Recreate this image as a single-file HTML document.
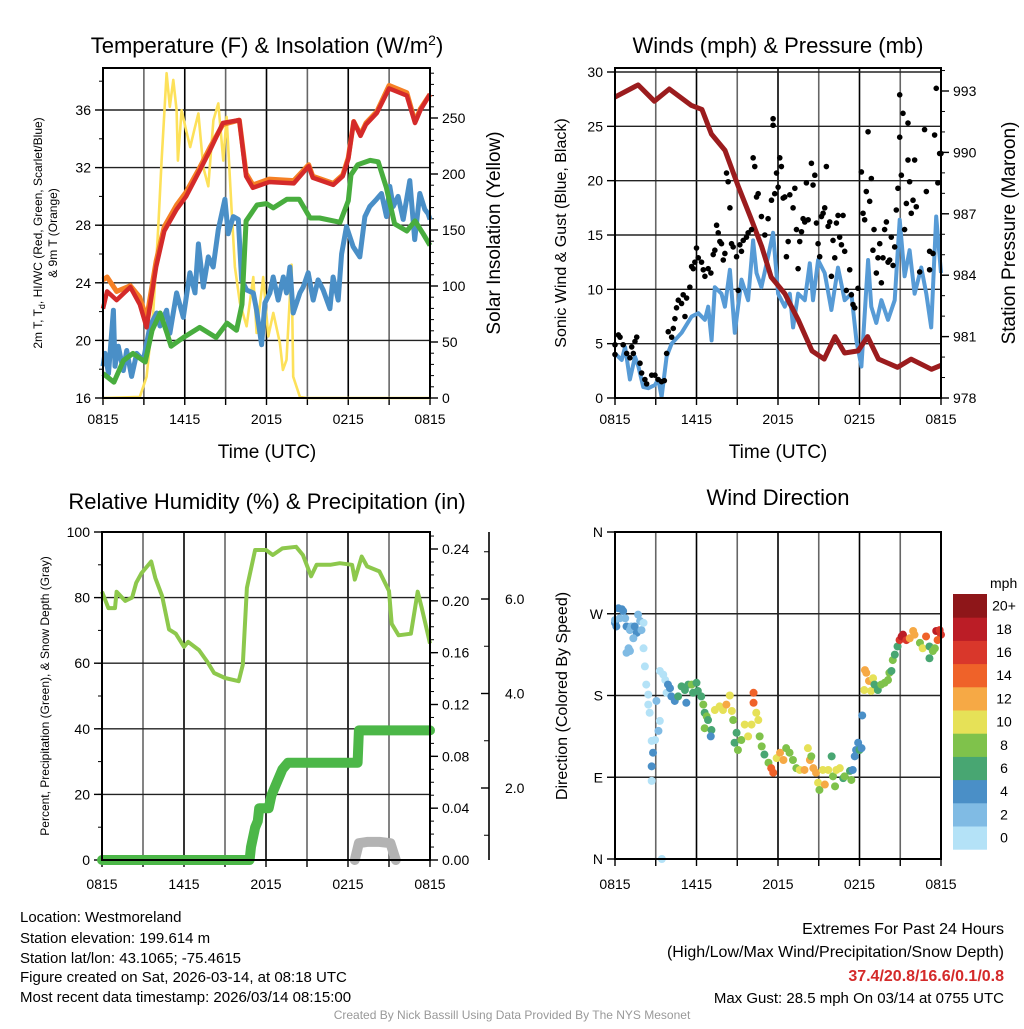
<!DOCTYPE html>
<html><head><meta charset="utf-8">
<style>
html,body{margin:0;padding:0;background:#fff;}
svg text{font-family:"Liberation Sans",Arial,sans-serif;fill:#000;}
</style></head>
<body>
<svg id="root" xmlns="http://www.w3.org/2000/svg" width="1024" height="1024" viewBox="0 0 1024 1024">
<text x="267" y="53" font-size="22" text-anchor="middle">Temperature (F) &amp; Insolation (W/m<tspan dy="-8" font-size="14">2</tspan><tspan dy="8">)</tspan></text>
<text x="778" y="53" font-size="22" text-anchor="middle">Winds (mph) &amp; Pressure (mb)</text>
<text x="267" y="509" font-size="22" text-anchor="middle">Relative Humidity (%) &amp; Precipitation (in)</text>
<text x="778" y="505" font-size="22" text-anchor="middle">Wind Direction</text>
<text x="267" y="458" font-size="19" text-anchor="middle">Time (UTC)</text>
<text x="778" y="458" font-size="19" text-anchor="middle">Time (UTC)</text>
<text transform="translate(42,233) rotate(-90)" font-size="12" text-anchor="middle">2m T, T<tspan dy="3" font-size="9">d</tspan><tspan dy="-3">, HI/WC (Red, Green, Scarlet/Blue)</tspan></text>
<text transform="translate(57,233) rotate(-90)" font-size="12" text-anchor="middle">&amp; 9m T (Orange)</text>
<text transform="translate(500,233) rotate(-90)" font-size="19" text-anchor="middle">Solar Insolation (Yellow)</text>
<text transform="translate(566,233) rotate(-90)" font-size="16" text-anchor="middle">Sonic Wind &amp; Gust (Blue, Black)</text>
<text transform="translate(1015,233) rotate(-90)" font-size="19" text-anchor="middle">Station Pressure (Maroon)</text>
<text transform="translate(49,696) rotate(-90)" font-size="12" text-anchor="middle">Percent, Precipitation (Green), &amp; Snow Depth (Gray)</text>
<text transform="translate(567,696) rotate(-90)" font-size="16" text-anchor="middle">Direction (Colored By Speed)</text>
<g font-size="15">
<text x="20" y="922">Location: Westmoreland</text>
<text x="20" y="943">Station elevation: 199.614 m</text>
<text x="20" y="963">Station lat/lon: 43.1065; -75.4615</text>
<text x="20" y="982">Figure created on Sat, 2026-03-14, at 08:18 UTC</text>
<text x="20" y="1002">Most recent data timestamp: 2026/03/14 08:15:00</text>
</g>
<g font-size="16" text-anchor="end">
<text x="1004" y="934">Extremes For Past 24 Hours</text>
<text x="1004" y="957">(High/Low/Max Wind/Precipitation/Snow Depth)</text>
<text x="1004" y="981" font-weight="bold" style="fill:#d42a2a">37.4/20.8/16.6/0.1/0.8</text>
<text x="1004" y="1003" font-size="15">Max Gust: 28.5 mph On 03/14 at 0755 UTC</text>
</g>
<text x="512" y="1019" font-size="12" text-anchor="middle" style="fill:#999">Created By Nick Bassill Using Data Provided By The NYS Mesonet</text>
</svg>
<script>
// ---------- data ----------
const timeTicks = ["0815","1415","2015","0215","0815"];
const tempTicks = [16,20,24,28,32,36];
const solarTicks = [0,50,100,150,200,250];
const windTicks = [0,5,10,15,20,25,30];
const presTicks = [978,981,984,987,990,993];
const rhTicks = [0,20,40,60,80,100];
const precipTicks = ["0.00","0.04","0.08","0.12","0.16","0.20","0.24"];
const snowTicks = ["2.0","4.0","6.0"];
const dirLabels = ["N","E","S","W","N"];
const speedBins = ["0","2","4","6","8","10","12","14","16","18","20+"];

const tempH = [0,0.3,1,2,2.7,3.2,3.9,4.5,5.4,6.1,7.1,7.85,8.8,10,10.5,11,12.2,14,15.1,15.4,16.9,17.6,18,18.4,18.9,19.3,20.1,21,22.3,22.9,23.3,24];
const redT = [22.2,23.4,22.8,23.7,22.5,20.9,25.1,27.6,29.1,30.0,31.8,33.2,35.1,35.3,31.4,30.6,31.0,30.9,32.1,31.3,30.8,31.4,32.6,35.2,34.2,35.0,35.8,37.5,37.0,35.1,36.0,37.1];
const orangeT = [24.2,24.4,23.4,23.8,23.0,21.5,25.5,27.9,29.4,30.3,32.0,33.4,35.0,35.3,31.6,30.8,31.2,31.1,32.2,31.4,30.9,31.5,32.7,35.2,34.3,35.1,35.9,37.7,37.2,35.2,36.1,37.1];
const greenH = [0,0.8,1.5,2.2,3.1,3.6,4.2,4.7,5,5.9,7.1,8.3,9.1,9.8,10.2,10.5,11.3,12,12.5,13.5,14.4,15.2,15.9,17.4,18,18.2,18.7,19.6,20.2,20.8,21.4,22.3,22.9,23.5,24];
const greenT = [17.7,17.1,18.6,19.1,18.5,20.7,21.9,20.5,19.6,20.2,20.9,20.2,21.2,20.7,22.5,28.3,29.4,29.5,29.2,29.8,29.8,28.5,28.5,28.2,29.7,31.5,32.2,32.5,32.4,30.6,28.1,27.6,28.3,27.4,26.6];
const blueH = [0,0.15,0.4,0.76,0.88,1.12,1.49,1.74,2.1,2.47,2.96,3.45,3.94,4.18,4.67,4.91,5.4,5.89,6.38,6.75,7.0,7.36,7.73,8.09,8.46,8.95,9.19,9.56,9.93,10.17,10.54,11.03,11.27,11.64,11.88,12.25,12.49,12.86,13.23,13.47,13.72,13.96,14.45,14.69,15.06,15.43,15.79,16.16,16.65,16.89,17.26,17.51,17.87,18.36,18.85,19.22,19.58,20.07,20.44,20.81,21.05,21.3,21.66,22.03,22.52,22.88,23.25,23.62,23.86,24];
const blueT = [18.2,19.1,17.7,22.1,18.2,19.6,17.9,19.3,17.5,19.1,18.6,21.0,21.9,21.0,22.1,20.5,23.3,21.6,24.7,23.3,26.7,23.7,25.8,25.1,27.7,29.8,27.4,28.6,28.4,24.2,23.5,23.3,22.1,19.7,22.6,23.3,24.4,22.8,24.4,23.3,25.1,21.9,23.3,23.7,24.7,22.8,24.2,23.5,22.2,24.4,22.8,26.0,27.9,26.5,25.8,28.6,29.3,29.8,30.2,28.6,30.7,29.3,30.0,28.4,31.1,27.0,30.2,29.1,28.8,28.4];
const solarH = [0,2.7,3.2,3.7,4.06,4.3,4.67,4.9,5.16,5.4,5.5,5.77,6.1,6.4,6.75,7.0,7.36,7.73,8.1,8.46,8.83,9.07,9.44,9.68,10.05,10.54,11.03,11.27,11.76,12.13,12.5,12.98,13.2,13.47,13.84,13.96,14.45,14.94,24];
const solarV = [0,1,19,79,153,212,290,260,284,257,212,257,239,224,242,254,206,189,248,263,212,251,168,117,85,64,108,58,108,55,76,49,25,34,119,19,1,0,0];

const windH = [0,0.49,0.74,1.1,1.47,1.72,2.08,2.45,2.94,3.19,3.43,3.8,4.17,4.9,5.64,6.13,6.62,6.86,7.11,7.35,7.84,8.09,8.46,8.82,9.31,9.8,10.17,10.42,10.78,11.27,11.64,12.01,12.5,12.87,13.11,13.48,13.97,14.34,14.58,14.95,15.44,15.93,16.42,16.91,17.4,17.77,18.14,18.63,18.87,19.24,19.61,20.1,20.59,20.96,21.32,21.69,22.06,22.55,22.92,23.28,23.65,24];
const windV = [4.1,3.5,4.7,1.7,3.8,2.9,1.0,0.9,1.2,1.7,0.1,3.8,5.0,6.0,7.5,7.8,7.2,8.4,5.3,10.2,9.6,8.4,11.8,6.0,10.9,9.0,14.5,11.5,10.2,13.0,15.2,9.6,8.4,9.6,6.5,9.6,9.0,12.4,9.0,12.7,11.5,8.1,12.0,9.0,9.6,5.3,2.9,12.7,8.4,6.9,9.0,7.2,9.0,16.4,11.2,13.6,9.6,12.0,9.6,6.5,16.7,11.5];
const presH = [0,1.7,2.9,4.0,5.6,6.4,7.1,8.1,9.1,10.0,10.8,11.5,12.5,13.5,14.5,15.4,16.2,16.9,17.9,18.6,19.4,20.8,21.8,23.3,24];
const presV = [992.7,993.3,992.5,993.1,992.3,992.1,990.9,990.1,988.3,986.8,985.4,983.9,983.1,981.8,980.3,979.9,981.0,980.2,980.3,981.0,979.9,979.5,979.9,979.4,979.6];
const gustH = [0,0.25,0.37,0,0.6,0.86,1.1,1.23,1.47,1.6,1.35,1.84,1.96,2.2,2.33,2.7,2.94,3.18,3.43,3.63,3.8,3.92,4.17,4.29,4.41,4.53,4.66,4.9,5.02,5.15,5.27,5.51,5.64,5.76,5.88,6.0,6.13,6.37,6.5,6.62,6.86,7.06,7.23,7.35,7.48,7.6,7.72,7.84,7.97,8.09,8.21,8.33,8.46,8.58,8.7,8.95,9.07,9.19,9.31,9.44,9.68,9.8,10.05,10.17,10.29,10.42,10.54,10.78,11.03,11.27,11.52,11.64,11.64,11.76,11.89,12.01,12.13,12.25,12.38,12.5,12.62,12.75,12.87,13.11,13.24,13.36,13.48,13.6,13.73,13.85,13.97,14.09,14.22,14.46,14.58,14.71,14.83,14.95,15.07,15.2,15.32,15.44,15.56,15.69,15.81,15.93,16.05,16.18,16.3,16.42,16.54,16.67,16.79,16.91,17.03,17.28,17.4,17.52,17.65,17.89,18.14,18.26,18.38,18.5,18.75,18.63,18.87,18.99,19.07,19.24,19.36,19.49,19.61,19.73,19.85,19.98,20.1,20.22,20.34,20.47,20.59,20.71,20.83,20.96,20.96,21.08,21.2,21.32,21.45,21.57,21.57,21.69,21.81,21.94,22.06,22.18,22.43,22.79,22.92,23.16,23.16,23.41,23.53,23.65,23.77,23.9,24];
const gustV = [4.0,5.8,5.6,4.9,4.9,4.1,3.7,4.7,5.2,5.6,4.1,3.2,2.3,1.7,1.3,2.1,2.1,1.7,1.5,1.6,4.1,6.1,5.6,6.4,7.3,8.3,9.0,8.7,9.5,7.5,9.2,10.2,12.1,11.9,12.5,13.8,12.9,12.5,11.8,11.2,11.9,11.5,13.2,13.6,15.9,15.2,14.4,14.2,12.7,13.3,20.7,19.9,17.5,14.2,13.9,13.0,9.9,14.1,13.5,14.5,14.8,15.2,15.5,22.1,21.3,18.5,18.8,16.7,15.0,16.5,18.2,25.7,25.1,18.8,20.7,19.4,22.1,21.3,18.4,18.5,13.0,14.4,18.7,17.5,19.3,15.5,11.9,14.4,15.3,16.5,16.2,19.8,16.4,21.6,19.6,20.5,16.1,14.2,13.0,16.7,17.0,17.5,21.3,15.8,16.2,11.2,14.5,12.9,16.1,16.8,14.8,14.1,16.8,13.5,9.9,11.8,9.5,8.6,8.3,10.1,20.8,17.0,16.4,19.0,18.1,24.5,20.2,13.6,15.5,11.5,12.9,14.2,10.6,12.9,15.5,16.2,12.5,12.7,14.8,12.2,13.9,17.3,19.3,27.9,24.0,20.5,26.2,15.5,17.9,25.3,21.9,19.9,17.0,18.2,21.9,17.6,11.6,24.7,19.0,13.5,11.8,13.3,24.2,28.5,19.8,22.5,22.5];

const rhH = [0,0.47,0.95,1.07,1.7,2.2,2.5,2.9,3.6,3.9,4.4,4.9,5.4,6.0,6.3,7.1,7.7,8.2,9.0,10.0,10.3,10.6,11.2,12.0,12.5,13.2,14.2,14.7,15.3,15.7,16.7,17.4,18.3,18.5,19.0,19.4,20.3,21.0,21.2,21.7,22.6,23.1,23.4,24];
const rhV = [81.8,76.8,76.8,81.8,79,80,84.5,87.5,91,86,80.5,70.3,69,65,66.5,64,60.5,57,55.5,54.5,59.5,83,94.5,94.5,93,95,95.5,93,86.5,90,90,90.5,90,85.5,92.5,89.5,88,82,72,68.5,69,81.8,76.8,66];
const precipH = [0,10.8,10.9,11.2,11.4,11.5,12.2,12.4,12.8,13.2,13.6,18.7,18.8,24];
const precipV = [0,0,0.01,0.025,0.03,0.04,0.04,0.05,0.06,0.07,0.075,0.075,0.1,0.1];
const snowH = [18.5,18.8,19.4,20.3,21.1,21.5];
const snowV = [0,0.013,0.014,0.014,0.013,0];

const dirH = [0,0,0.1,0.25,0.5,0.6,0.75,0.35,0.85,1.1,1.2,1.45,1.6,1.7,1.85,1.95,2.1,1.35,1.0,1.1,0.85,2.1,2.2,2.3,2.45,2.45,2.55,3.05,3.3,3.2,2.95,2.7,2.8,2.7,2.7,3.45,3.3,3.55,3.7,3.8,3.9,4.05,4.15,4.4,4.65,4.9,5.15,5.4,5.65,5.75,6.0,6.1,6.35,5.25,6.5,6.6,6.75,6.85,6.6,7.1,7.05,7.35,7.7,7.95,8.2,8.45,8.6,8.7,8.95,8.8,9.05,9.3,9.55,9.8,10.05,10.2,10.2,10.4,10.55,10.65,10.8,11.0,11.3,11.5,11.65,11.9,12.15,12.4,12.6,12.85,13.1,13.35,13.6,13.95,14.2,14.35,14.45,14.6,14.8,14.95,15.05,15.3,15.45,15.7,15.95,16.05,16.2,16.3,16.55,16.8,16.9,17.3,17.4,17.5,17.65,17.75,17.9,18.0,18.15,18.2,18.35,18.4,18.5,18.7,19.0,18.85,19.1,19.35,19.6,19.85,20.1,20.2,20.35,20.45,20.6,20.8,20.95,21.1,21.2,21.45,21.7,21.95,22.05,22.45,22.65,22.9,23.15,23.4,23.15,23.55,23.65,23.9,24.0,23.75];
const dirDeg = [260,263,256,276,275,273,265,265,256,252,256,256,249,269,262,252,260,243,232,229,227,232,212,192,181,170,161,174,152,141,131,130,117,102,86,0,207,203,197,183,192,188,179,174,179,190,186,192,192,183,194,185,179,172,170,161,157,153,144,142,135,164,168,164,170,180,163,153,139,128,120,131,148,135,148,183,172,161,153,135,124,115,106,100,95,111,117,109,122,117,109,100,98,98,122,109,113,100,95,84,76,98,82,98,113,91,80,98,100,89,91,97,87,98,113,120,128,120,122,158,186,208,205,196,199,185,192,186,192,194,197,205,207,219,225,234,241,245,247,241,243,251,247,238,232,245,234,229,221,232,251,252,247,241];
const dirSpd = [5,3,5,5,5,5,3,3,5,3,3,5,5,3,3,3,1,3,3,3,3,1,1,1,1,1,1,3,1,3,1,1,5,5,1,1,1,1,1,1,5,5,5,5,7,7,7,7,9,7,7,7,7,5,9,7,9,7,9,7,5,11,11,11,13,11,11,9,7,7,9,9,11,11,11,15,15,11,11,9,9,7,9,15,15,11,13,13,9,9,9,9,11,13,11,13,9,13,13,11,9,11,13,11,7,9,9,11,11,7,9,7,9,5,5,5,5,7,5,5,11,13,13,13,11,11,7,7,9,9,9,9,7,9,7,7,17,19,19,17,13,13,13,9,11,15,7,9,7,9,19,17,17,15];

// ---------- helpers ----------
const NS = "http://www.w3.org/2000/svg";
const root = document.getElementById("root");
function mk(tag, attrs, parent){ const e=document.createElementNS(NS,tag); for(const k in attrs) e.setAttribute(k,attrs[k]); (parent||root).appendChild(e); return e; }
function lin(d0,d1,r0,r1){ return v => r0 + (v-d0)*(r1-r0)/(d1-d0); }
function pathD(xs,ys,fx,fy){ let s=""; for(let i=0;i<xs.length;i++){ s+=(i?"L":"M")+fx(xs[i]).toFixed(1)+","+fy(ys[i]).toFixed(1);} return s; }

const P1={x0:103,x1:430,y0:68,y1:398}, P2={x0:615,x1:941,y0:68,y1:398}, P3={x0:102,x1:430,y0:532,y1:860}, P4={x0:615,x1:941,y0:532,y1:859};

function frame(P,name,hLines,labY){
  const g=mk("g",{});
  
  
  const fx=lin(0,24,P.x0,P.x1);
  for(let h=3;h<24;h+=3){ const l=mk("line",{x1:fx(h),x2:fx(h),y1:P.y0,y2:P.y1,stroke:(h%6===0)?"#000":"#666","stroke-width":1.6},g);
    
     }
  hLines.forEach(y=>{ const l=mk("line",{x1:P.x0,x2:P.x1,y1:y,y2:y,stroke:"#222","stroke-width":1.4},g);
    
     });
  for(let h=0;h<=24;h+=3){ const t=mk("line",{x1:fx(h),x2:fx(h),y1:P.y1,y2:P.y1+7,stroke:"#000","stroke-width":1.4},g);
    
     }
  timeTicks.forEach((lab,i)=>{ const t=mk("text",{x:fx(i*6),y:labY,"font-size":14,"text-anchor":"middle"},g); t.textContent=lab;
    
     });
  return fx;
}
function border(P,name){ const r=mk("rect",{x:P.x0,y:P.y0,width:P.x1-P.x0,height:P.y1-P.y0,fill:"none",stroke:"#000","stroke-width":2});
  
   }
function yAxis(vals,labs,fy,x,side,name,minorStep,lo,hi){
  const g=mk("g",{});
  
  
  const d=side<0?-1:1;
  if(minorStep){ for(let v=lo; v<=hi+1e-9; v+=minorStep){ mk("line",{x1:x,x2:x+d*4,y1:fy(v),y2:fy(v),stroke:"#000","stroke-width":1},g);} }
  vals.forEach((v,i)=>{ mk("line",{x1:x,x2:x+d*8,y1:fy(v),y2:fy(v),stroke:"#000","stroke-width":1.4},g);
    const t=mk("text",{x:x+d*12,y:fy(v)+5,"font-size":14,"text-anchor":d<0?"end":"start"},g); t.textContent=labs[i];
    
     });
}

// ---------- Panel 1: temperature ----------
const fy1=lin(16,38,398,81.2), fs1=lin(0,250,398,118);
const fx1=frame(P1,"temp",tempTicks.slice(1).map(fy1),424);
yAxis(tempTicks,tempTicks.map(String),fy1,P1.x0,-1,"temp-y-axis",2,16,38);
yAxis(solarTicks,solarTicks.map(String),fs1,P1.x1,1,"solar-y-axis",10,0,290);
let p;
p=mk("path",{d:pathD(solarH,solarV,fx1,fs1),fill:"none",stroke:"#fde15a","stroke-width":2.6,"stroke-linejoin":"round"});


p=mk("path",{d:pathD(blueH,blueT,fx1,fy1),fill:"none",stroke:"#4a8fc7","stroke-width":5,"stroke-linejoin":"round"});


p=mk("path",{d:pathD(greenH,greenT,fx1,fy1),fill:"none",stroke:"#48ad3e","stroke-width":5,"stroke-linejoin":"round"});


p=mk("path",{d:pathD(tempH,orangeT,fx1,fy1),fill:"none",stroke:"#f58025","stroke-width":5,"stroke-linejoin":"round"});


p=mk("path",{d:pathD(tempH,redT,fx1,fy1),fill:"none",stroke:"#d42a2a","stroke-width":4.5,"stroke-linejoin":"round"});


border(P1,"temp");

// ---------- Panel 2: winds ----------
const fy2=lin(0,30,398,72), fp2=lin(978,993,398,91);
const fx2=frame(P2,"wind",windTicks.slice(1,6).map(fy2).concat([fy2(30)]),424);
yAxis(windTicks,windTicks.map(String),fy2,P2.x0,-1,"wind-y-axis",null);
yAxis(presTicks,presTicks.map(String),fp2,P2.x1,1,"pressure-y-axis",1,978,994);
p=mk("path",{d:pathD(windH,windV,fx2,fy2),fill:"none",stroke:"#579bd6","stroke-width":4,"stroke-linejoin":"round"});


p=mk("path",{d:pathD(presH,presV,fx2,fp2),fill:"none",stroke:"#9b1c1e","stroke-width":5,"stroke-linejoin":"round"});


const gg=mk("g",{});


gustH.forEach((h,i)=>{ const c=mk("circle",{cx:fx2(h),cy:fy2(gustV[i]),r:2.8,fill:"#000"},gg);
  
   });
border(P2,"wind");

// ---------- Panel 3: RH / precip ----------
const fy3=lin(0,100,860,532), fpr=lin(0,0.24,860,549), fsn=lin(2,6,788,599);
const fx3=frame(P3,"rh",[20,40,60,80].map(fy3),889);
yAxis(rhTicks,rhTicks.map(String),fy3,P3.x0,-1,"rh-y-axis",10,0,100);
yAxis([0,0.04,0.08,0.12,0.16,0.20,0.24],precipTicks,fpr,P3.x1,1,"precip-y-axis",0.01,0,0.25);
const sg=mk("g",{});


mk("line",{x1:489,x2:489,y1:532,y2:860,stroke:"#000","stroke-width":1.6},sg);
[1,3,5,7].forEach(v=>{ if(fsn(v)>532&&fsn(v)<860) mk("line",{x1:489,x2:484,y1:fsn(v),y2:fsn(v),stroke:"#000","stroke-width":1},sg); });
[2,4,6].forEach((v,i)=>{ mk("line",{x1:489,x2:481,y1:fsn(v),y2:fsn(v),stroke:"#000","stroke-width":1.4},sg);
  const t=mk("text",{x:505,y:fsn(v)+5,"font-size":14},sg); t.textContent=snowTicks[i];
  
   });
p=mk("path",{d:pathD(snowH,snowV,fx3,fpr),fill:"none",stroke:"#b3b3b3","stroke-width":10,"stroke-linecap":"round","stroke-linejoin":"round"});


p=mk("path",{d:pathD(precipH,precipV,fx3,fpr),fill:"none",stroke:"#4cb748","stroke-width":10,"stroke-linecap":"round","stroke-linejoin":"round"});


p=mk("path",{d:pathD(rhH,rhV,fx3,fy3),fill:"none",stroke:"#8dc84c","stroke-width":4,"stroke-linejoin":"round"});


border(P3,"rh");

// ---------- Panel 4: wind direction ----------
const fy4=lin(0,360,859,532);
const fx4=frame(P4,"wdir",[90,180,270].map(fy4),889);
yAxis([0,90,180,270,360],dirLabels,fy4,P4.x0,-1,"direction-y-axis",null);
const binColors=["#b4e2f7","#80bbe4","#4a8fc7","#48a672","#7fc24b","#e6e157","#f6a945","#ef6229","#d9372b","#bb1d26","#8e1619"];
const dg=mk("g",{});


dirH.forEach((h,i)=>{ const b=Math.min(10,Math.floor(dirSpd[i]/2));
  const c=mk("circle",{cx:fx4(h),cy:fy4(dirDeg[i]),r:4,fill:binColors[b]},dg);
  
   });
border(P4,"wdir");

// colorbar
const cb=mk("g",{});


const cbTop=594, cbH=23.2;
const mt=mk("text",{x:990,y:588,"font-size":14},cb); mt.textContent="mph";
speedBins.forEach((lab,i)=>{ const k=speedBins.length-1-i; const y=cbTop+k*cbH;
  const r=mk("rect",{x:953,y:y,width:34,height:cbH+0.5,fill:binColors[i]},cb);
  
  
  const t=mk("text",{x:1004,y:y+cbH/2+5,"font-size":14,"text-anchor":"middle"},cb); t.textContent=lab;
  
   });
</script>
</body></html>
